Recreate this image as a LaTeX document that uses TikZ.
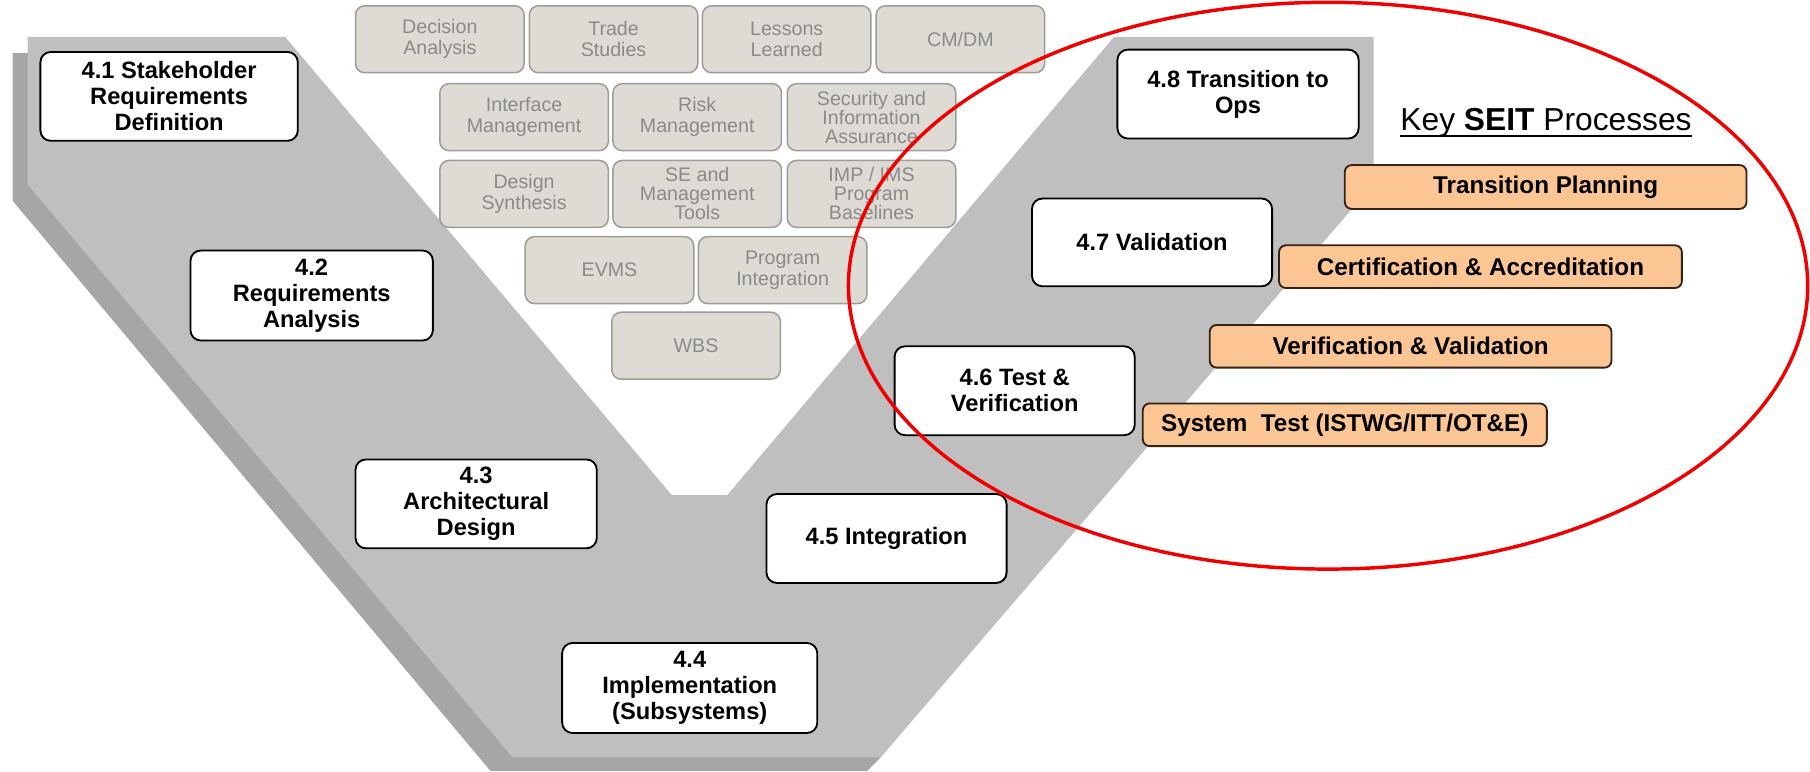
\documentclass[tikz,border=0pt]{standalone}
\usepackage{fontspec}
\setmainfont{Liberation Sans}
\usetikzlibrary{calc}
\definecolor{vgray}{RGB}{191,191,191}
\definecolor{vshadow}{RGB}{166,166,166}
\definecolor{gfill}{RGB}{222,218,212}
\definecolor{gborder}{RGB}{158,156,152}
\definecolor{gtext}{RGB}{138,138,138}
\definecolor{ofill}{RGB}{251,197,148}
\definecolor{oborder}{RGB}{50,35,25}
\definecolor{ringred}{RGB}{240,0,0}
\tikzset{
  wbox/.style={draw=black, line width=1.6pt, fill=white, rounded corners=9pt,
    align=center, inner sep=0pt, font=\bfseries\fontsize{20.5}{22.5}\selectfont},
  gbox/.style={draw=gborder, line width=1.3pt, fill=gfill, rounded corners=8pt,
    align=center, inner sep=0pt, text=gtext, minimum width=146pt, minimum height=58pt,
    font=\fontsize{17}{18.5}\selectfont},
  gboxthree/.style={gbox, font=\fontsize{17}{16.5}\selectfont},
  obox/.style={draw=oborder, line width=1.6pt, fill=ofill, rounded corners=6pt,
    align=center, inner sep=0pt, minimum width=349pt, minimum height=37pt,
    font=\bfseries\fontsize{21}{23}\selectfont},
}
\begin{document}
\begin{tikzpicture}[x=1pt,y=-1pt]
\useasboundingbox (0,0) rectangle (1568,668);
% V shape with shadow
\fill[vshadow] (11,46) -- (200,46) -- (500,500) -- (700,600) -- (763,656) -- (751,668)
  -- (425,668) -- (11,174) -- cycle;
\fill[vgray] (24,32) -- (247,32) -- (582,429) -- (630,429) -- (965,32) -- (1190,32)
  -- (1190,159) -- (763,656) -- (444,656) -- (24,160) -- cycle;
% grey process boxes
\node[gbox] (da) at (381,34) {Decision\\Analysis};
\node[gbox] (ts) at (531.5,34) {Trade\\Studies};
\node[gbox] (ll) at (681.5,34) {Lessons\\Learned};
\node[gbox] (cm) at (832,34) {CM/DM};
\node[gbox] (im) at (454,101.5) {Interface\\Management};
\node[gbox] (rm) at (604,101.5) {Risk\\Management};
\node[gboxthree] (si) at (755,101.5) {Security and\\Information\\Assurance};
\node[gbox] (ds) at (454,168) {Design\\Synthesis};
\node[gboxthree] (se) at (604,168) {SE and\\Management\\Tools};
\node[gboxthree] (ip) at (755,168) {IMP / IMS\\Program\\Baselines};
\node[gbox] (ev) at (528,234) {EVMS};
\node[gbox] (pi) at (678,234) {Program\\Integration};
\node[gbox] (wb) at (603,299.5) {WBS};
% white SE process boxes
\node[wbox, minimum width=223pt, minimum height=77pt] (p41) at (146.5,83.5) {4.1 Stakeholder\\Requirements\\Definition};
\node[wbox, minimum width=210pt, minimum height=78pt] (p42) at (270,256) {4.2\\Requirements\\Analysis};
\node[wbox, minimum width=209pt, minimum height=77pt] (p43) at (412.5,436.5) {4.3\\Architectural\\Design};
\node[wbox, minimum width=221pt, minimum height=78pt] (p44) at (597.5,596) {4.4\\Implementation\\(Subsystems)};
\node[wbox, minimum width=208pt, minimum height=77pt] (p45) at (768,466.5) {4.5 Integration};
\node[wbox, minimum width=208pt, minimum height=77pt] (p46) at (879,338.5) {\raisebox{3pt}{\parbox{200pt}{\centering 4.6 Test \&\\Verification}}};
\node[wbox, minimum width=208pt, minimum height=76pt] (p47) at (998,210) {4.7 Validation};
\node[wbox, minimum width=209pt, minimum height=77pt] (p48) at (1072.5,81.5) {4.8 Transition to\\Ops};
% key SEIT processes
\node[anchor=base west, inner sep=0pt, font=\fontsize{27.5}{29}\selectfont] (title) at (1213,113)
  {Key \textbf{SEIT} Processes};
\draw[line width=1.8pt] ($(title.base west)+(0,5)$) -- ($(title.base east)+(0,5)$);
\node[obox, minimum width=348pt, minimum height=38pt] (tp) at (1339,162) {Transition Planning};
\node[obox] (ca) at (1282.5,231) {Certification \& Accreditation};
\node[obox, minimum width=348pt] (vv) at (1222,300) {Verification \& Validation};
\node[obox, minimum width=350pt] (st) at (1165,368) {System\ \ Test (ISTWG/ITT/OT\&E)};
% red highlight ring
\draw[ringred, line width=3pt] (1150.5,247.5) ellipse [x radius=415.5pt, y radius=245.5pt];
\end{tikzpicture}
\end{document}
